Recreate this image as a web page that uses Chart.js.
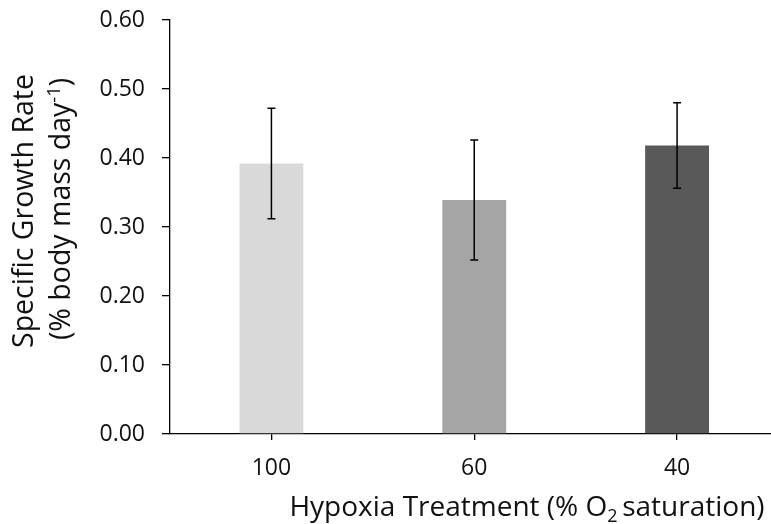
<!DOCTYPE html>
<html>
<head>
<meta charset="utf-8">
<script src="https://cdn.jsdelivr.net/npm/chart.js@4/dist/chart.umd.min.js"></script>
<style>
  html, body { margin: 0; padding: 0; overflow: hidden; background: #fff; }
  #wrap { width: 780px; height: 524px; }
</style>
</head>
<body>
<div id="wrap"><canvas id="growthChart"></canvas></div>
<script>
const categories = ['100', '60', '40'];
const growthRate = [0.392, 0.339, 0.418];
const growthErr = [0.080, 0.087, 0.062];
const barColours = ['#D9D9D9', '#A5A5A5', '#595959'];
const yTickValues = [0.00, 0.10, 0.20, 0.30, 0.40, 0.50, 0.60];

const FONT = '"Open Sans", "Liberation Sans", sans-serif';

// draw a run of text pieces (normal / sub / sup), centred on x=0 at baseline y=0
function drawPieces(ctx, pieces, size) {
    let total = 0;
    pieces.forEach(p => {
        ctx.font = (p.small ? size * 0.64 : size) + 'px ' + FONT;
        p.w = ctx.measureText(p.t).width;
        total += p.w;
    });
    let x = -total / 2;
    ctx.textAlign = 'left';
    ctx.textBaseline = 'alphabetic';
    pieces.forEach(p => {
        ctx.font = (p.small ? size * 0.64 : size) + 'px ' + FONT;
        ctx.fillText(p.t, x, p.dy || 0);
        x += p.w;
    });
}

const errorBars = {
    id: 'errorBars',
    afterDatasetsDraw(chart) {
        const ctx = chart.ctx;
        const y = chart.scales.y;
        const meta = chart.getDatasetMeta(0);
        ctx.save();
        ctx.strokeStyle = '#000';
        ctx.lineWidth = 1.5;
        meta.data.forEach((bar, i) => {
            const top = y.getPixelForValue(growthRate[i] + growthErr[i]);
            const bot = y.getPixelForValue(growthRate[i] - growthErr[i]);
            ctx.beginPath();
            ctx.moveTo(bar.x, top);
            ctx.lineTo(bar.x, bot);
            ctx.moveTo(bar.x - 4, top);
            ctx.lineTo(bar.x + 4, top);
            ctx.moveTo(bar.x - 4, bot);
            ctx.lineTo(bar.x + 4, bot);
            ctx.stroke();
        });
        ctx.restore();
    }
};

const axisTitles = {
    id: 'axisTitles',
    afterDraw(chart) {
        const ctx = chart.ctx;
        ctx.save();
        ctx.fillStyle = '#111';
        // y title, two rotated lines
        ctx.save();
        ctx.translate(33, 211);
        ctx.rotate(-Math.PI / 2);
        drawPieces(ctx, [{ t: 'Specific Growth Rate' }], 28.5);
        ctx.restore();
        ctx.save();
        ctx.translate(70, 209);
        ctx.rotate(-Math.PI / 2);
        drawPieces(ctx, [
            { t: '(% body mass day' },
            { t: '-1', small: true, dy: -10 },
            { t: ')' }
        ], 28.5);
        ctx.restore();
        // x title
        ctx.translate(527, 516);
        drawPieces(ctx, [
            { t: 'Hypoxia Treatment (% O' },
            { t: '2 ', small: true, dy: 6 },
            { t: 'saturation)' }
        ], 28);
        ctx.restore();
    }
};

new Chart(document.getElementById('growthChart'), {
    type: 'bar',
    data: {
        labels: categories,
        datasets: [{
            data: growthRate,
            backgroundColor: barColours,
            borderWidth: 0,
            barPercentage: 0.315,
            categoryPercentage: 1
        }]
    },
    options: {
        responsive: true,
        maintainAspectRatio: false,
        animation: false,
        layout: { padding: { top: 20, right: 1.5, left: 0, bottom: 0 } },
        plugins: {
            legend: { display: false },
            tooltip: { enabled: false }
        },
        scales: {
            x: {
                grid: { offset: false, drawOnChartArea: false, drawTicks: true, tickLength: 6, color: '#000', lineWidth: 1.3 },
                border: { display: true, color: '#000', width: 1.3 },
                ticks: { color: '#111', padding: 15, font: { family: FONT, size: 23 } },
                afterFit(scale) {
                    scale.height = 90;
                    scale.paddingLeft = 0;
                    scale.paddingRight = 0;
                }
            },
            y: {
                min: 0,
                max: 0.6,
                afterBuildTicks(scale) { scale.ticks = yTickValues.map(v => ({ value: v })); },
                grid: { drawOnChartArea: false, drawTicks: true, tickLength: 8, color: '#000', lineWidth: 1.3 },
                border: { display: true, color: '#000', width: 1.3 },
                ticks: {
                    color: '#111',
                    padding: 17,
                    font: { family: FONT, size: 23 },
                    callback: v => Number(v).toFixed(2)
                },
                afterFit(scale) {
                    scale.width = 170;
                    scale.paddingTop = 0;
                    scale.paddingBottom = 0;
                }
            }
        }
    },
    plugins: [errorBars, axisTitles]
});
</script>
</body>
</html>
